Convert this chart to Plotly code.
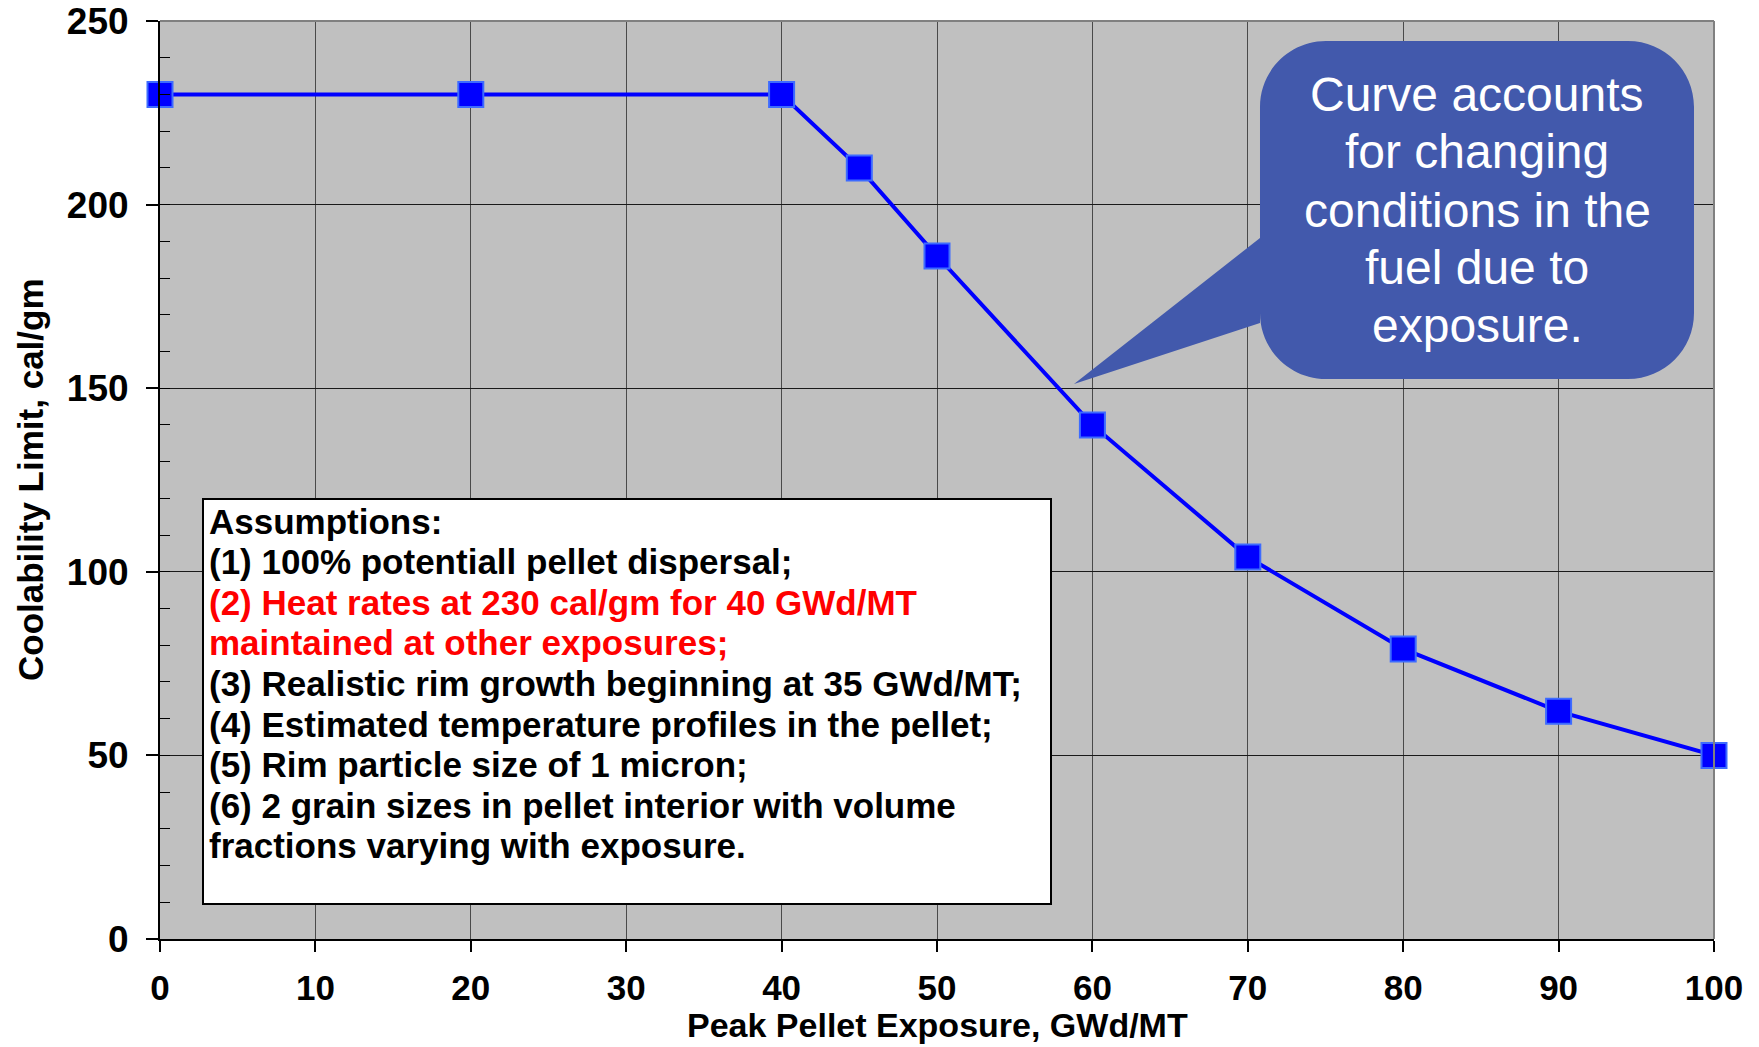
import plotly.graph_objects as go

# ---- data ----
exposure = [0, 20, 40, 45, 50, 60, 70, 80, 90, 100]
coolability = [230, 230, 230, 210, 186, 140, 104, 79, 62, 50]

x_ticks = [0, 10, 20, 30, 40, 50, 60, 70, 80, 90, 100]
y_ticks = [0, 50, 100, 150, 200, 250]

x_title = "Peak Pellet Exposure, GWd/MT"
y_title = "Coolability Limit, cal/gm"

callout_lines = ["Curve accounts", "for changing", "conditions in the", "fuel due to", "exposure."]
assumption_lines = [
    ("Assumptions:", "black"),
    ("(1) 100% potentiall pellet dispersal;", "black"),
    ("(2) Heat rates at 230 cal/gm for 40 GWd/MT", "#FF0000"),
    ("maintained at other exposures;", "#FF0000"),
    ("(3) Realistic rim growth beginning at 35 GWd/MT;", "black"),
    ("(4) Estimated temperature profiles in the pellet;", "black"),
    ("(5) Rim particle size of 1 micron;", "black"),
    ("(6) 2 grain sizes in pellet interior with volume", "black"),
    ("fractions varying with exposure.", "black"),
]

# ---- layout geometry (pixels) ----
W, H = 1759, 1047
L, R, T, B = 160, 1714, 21, 939
FONT = "Arial"


def px(X):
    return (X - L) / (R - L)


def py(Y):
    return (B - Y) / (B - T)


fig = go.Figure()
fig.add_trace(go.Scatter(
    x=exposure, y=coolability, mode="lines+markers",
    line=dict(color="#0000FF", width=4),
    marker=dict(symbol="square", size=25, color="#0000FF",
                line=dict(color="#3D6BFF", width=2)),
    cliponaxis=False, showlegend=False, hoverinfo="x+y",
))

shapes = []
shapes.append(dict(type="line", xref="paper", yref="paper", x0=0, x1=1, y0=1, y1=1,
                   line=dict(color="#808080", width=2), layer="above"))
shapes.append(dict(type="line", xref="paper", yref="paper", x0=1, x1=1, y0=0, y1=1,
                   line=dict(color="#808080", width=2), layer="above"))

shapes.append(dict(type="rect", xref="paper", yref="paper",
                   x0=px(203), x1=px(1051), y0=py(904), y1=py(499),
                   fillcolor="white", line=dict(color="black", width=2), layer="above"))

bx0, bx1, by0, by1, r = 1260, 1694, 41, 379, 66
k = 0.5523 * r
tip = (1074, 384)
t_top, t_bot = 238, 323


def P(X, Y):
    return f"{px(X):.5f},{py(Y):.5f}"


path = (
    f"M {P(bx0 + r, by0)} L {P(bx1 - r, by0)} "
    f"C {P(bx1 - r + k, by0)} {P(bx1, by0 + r - k)} {P(bx1, by0 + r)} "
    f"L {P(bx1, by1 - r)} "
    f"C {P(bx1, by1 - r + k)} {P(bx1 - r + k, by1)} {P(bx1 - r, by1)} "
    f"L {P(bx0 + r, by1)} "
    f"C {P(bx0 + r - k, by1)} {P(bx0, by1 - r + k)} {P(bx0, by1 - r)} "
    f"L {P(bx0, t_bot)} L {P(*tip)} L {P(bx0, t_top)} "
    f"L {P(bx0, by0 + r)} "
    f"C {P(bx0, by0 + r - k)} {P(bx0 + r - k, by0)} {P(bx0 + r, by0)} Z"
)
shapes.append(dict(type="path", xref="paper", yref="paper", path=path,
                   fillcolor="#4259AC", line=dict(width=0), layer="above"))

annotations = []
callout_y = [94, 152, 210, 267, 325]
for txt, yy in zip(callout_lines, callout_y):
    annotations.append(dict(
        xref="paper", yref="paper", x=px((bx0 + bx1) / 2), y=py(yy),
        xanchor="center", yanchor="middle", text=txt, showarrow=False,
        font=dict(family=FONT, size=48, color="white"),
    ))

for i, (txt, col) in enumerate(assumption_lines):
    yy = 521 + 40.6 * i
    annotations.append(dict(
        xref="paper", yref="paper", x=px(207), y=py(yy),
        xanchor="left", yanchor="middle", text=txt, showarrow=False,
        font=dict(family=FONT, size=35, color=col, weight="bold"),
    ))

# axis titles placed as annotations for exact positioning
annotations.append(dict(
    xref="paper", yref="paper", x=px(30), y=py(480),
    xanchor="center", yanchor="middle", text=y_title, textangle=-90, showarrow=False,
    font=dict(family=FONT, size=35, color="black", weight="bold"),
))
annotations.append(dict(
    xref="paper", yref="paper", x=px(938), y=py(1025),
    xanchor="center", yanchor="middle", text=x_title, showarrow=False,
    font=dict(family=FONT, size=34, color="black", weight="bold"),
))

fig.update_layout(
    width=W, height=H,
    margin=dict(l=L, r=W - R, t=T, b=H - B, pad=0, autoexpand=False),
    paper_bgcolor="white", plot_bgcolor="#C0C0C0",
    font=dict(family=FONT, color="black"),
    shapes=shapes, annotations=annotations,
    xaxis=dict(
        range=[0, 100], tickvals=x_ticks, ticktext=[str(v) for v in x_ticks],
        ticks="outside", ticklen=11, tickwidth=1.5, tickcolor="black",
        showline=True, linecolor="black", linewidth=2,
        showgrid=True, gridcolor="#4a4a4a", gridwidth=1,
        zeroline=False, automargin=False,
        ticklabelstandoff=6,
        tickfont=dict(family=FONT, size=35, color="black", weight="bold"),
        fixedrange=True,
    ),
    yaxis=dict(
        range=[0, 250], tickvals=y_ticks, ticktext=[str(v) for v in y_ticks],
        ticks="outside", ticklen=12, tickwidth=1.5, tickcolor="black",
        minor=dict(dtick=10, ticks="inside", ticklen=10, tickcolor="black", tickwidth=1,
                   showgrid=False),
        showline=True, linecolor="black", linewidth=2,
        showgrid=True, gridcolor="#1a1a1a", gridwidth=1,
        zeroline=False, automargin=False,
        ticklabelstandoff=10,
        tickfont=dict(family=FONT, size=37, color="black", weight="bold"),
        fixedrange=True,
    ),
)

fig.write_html("out.html")
